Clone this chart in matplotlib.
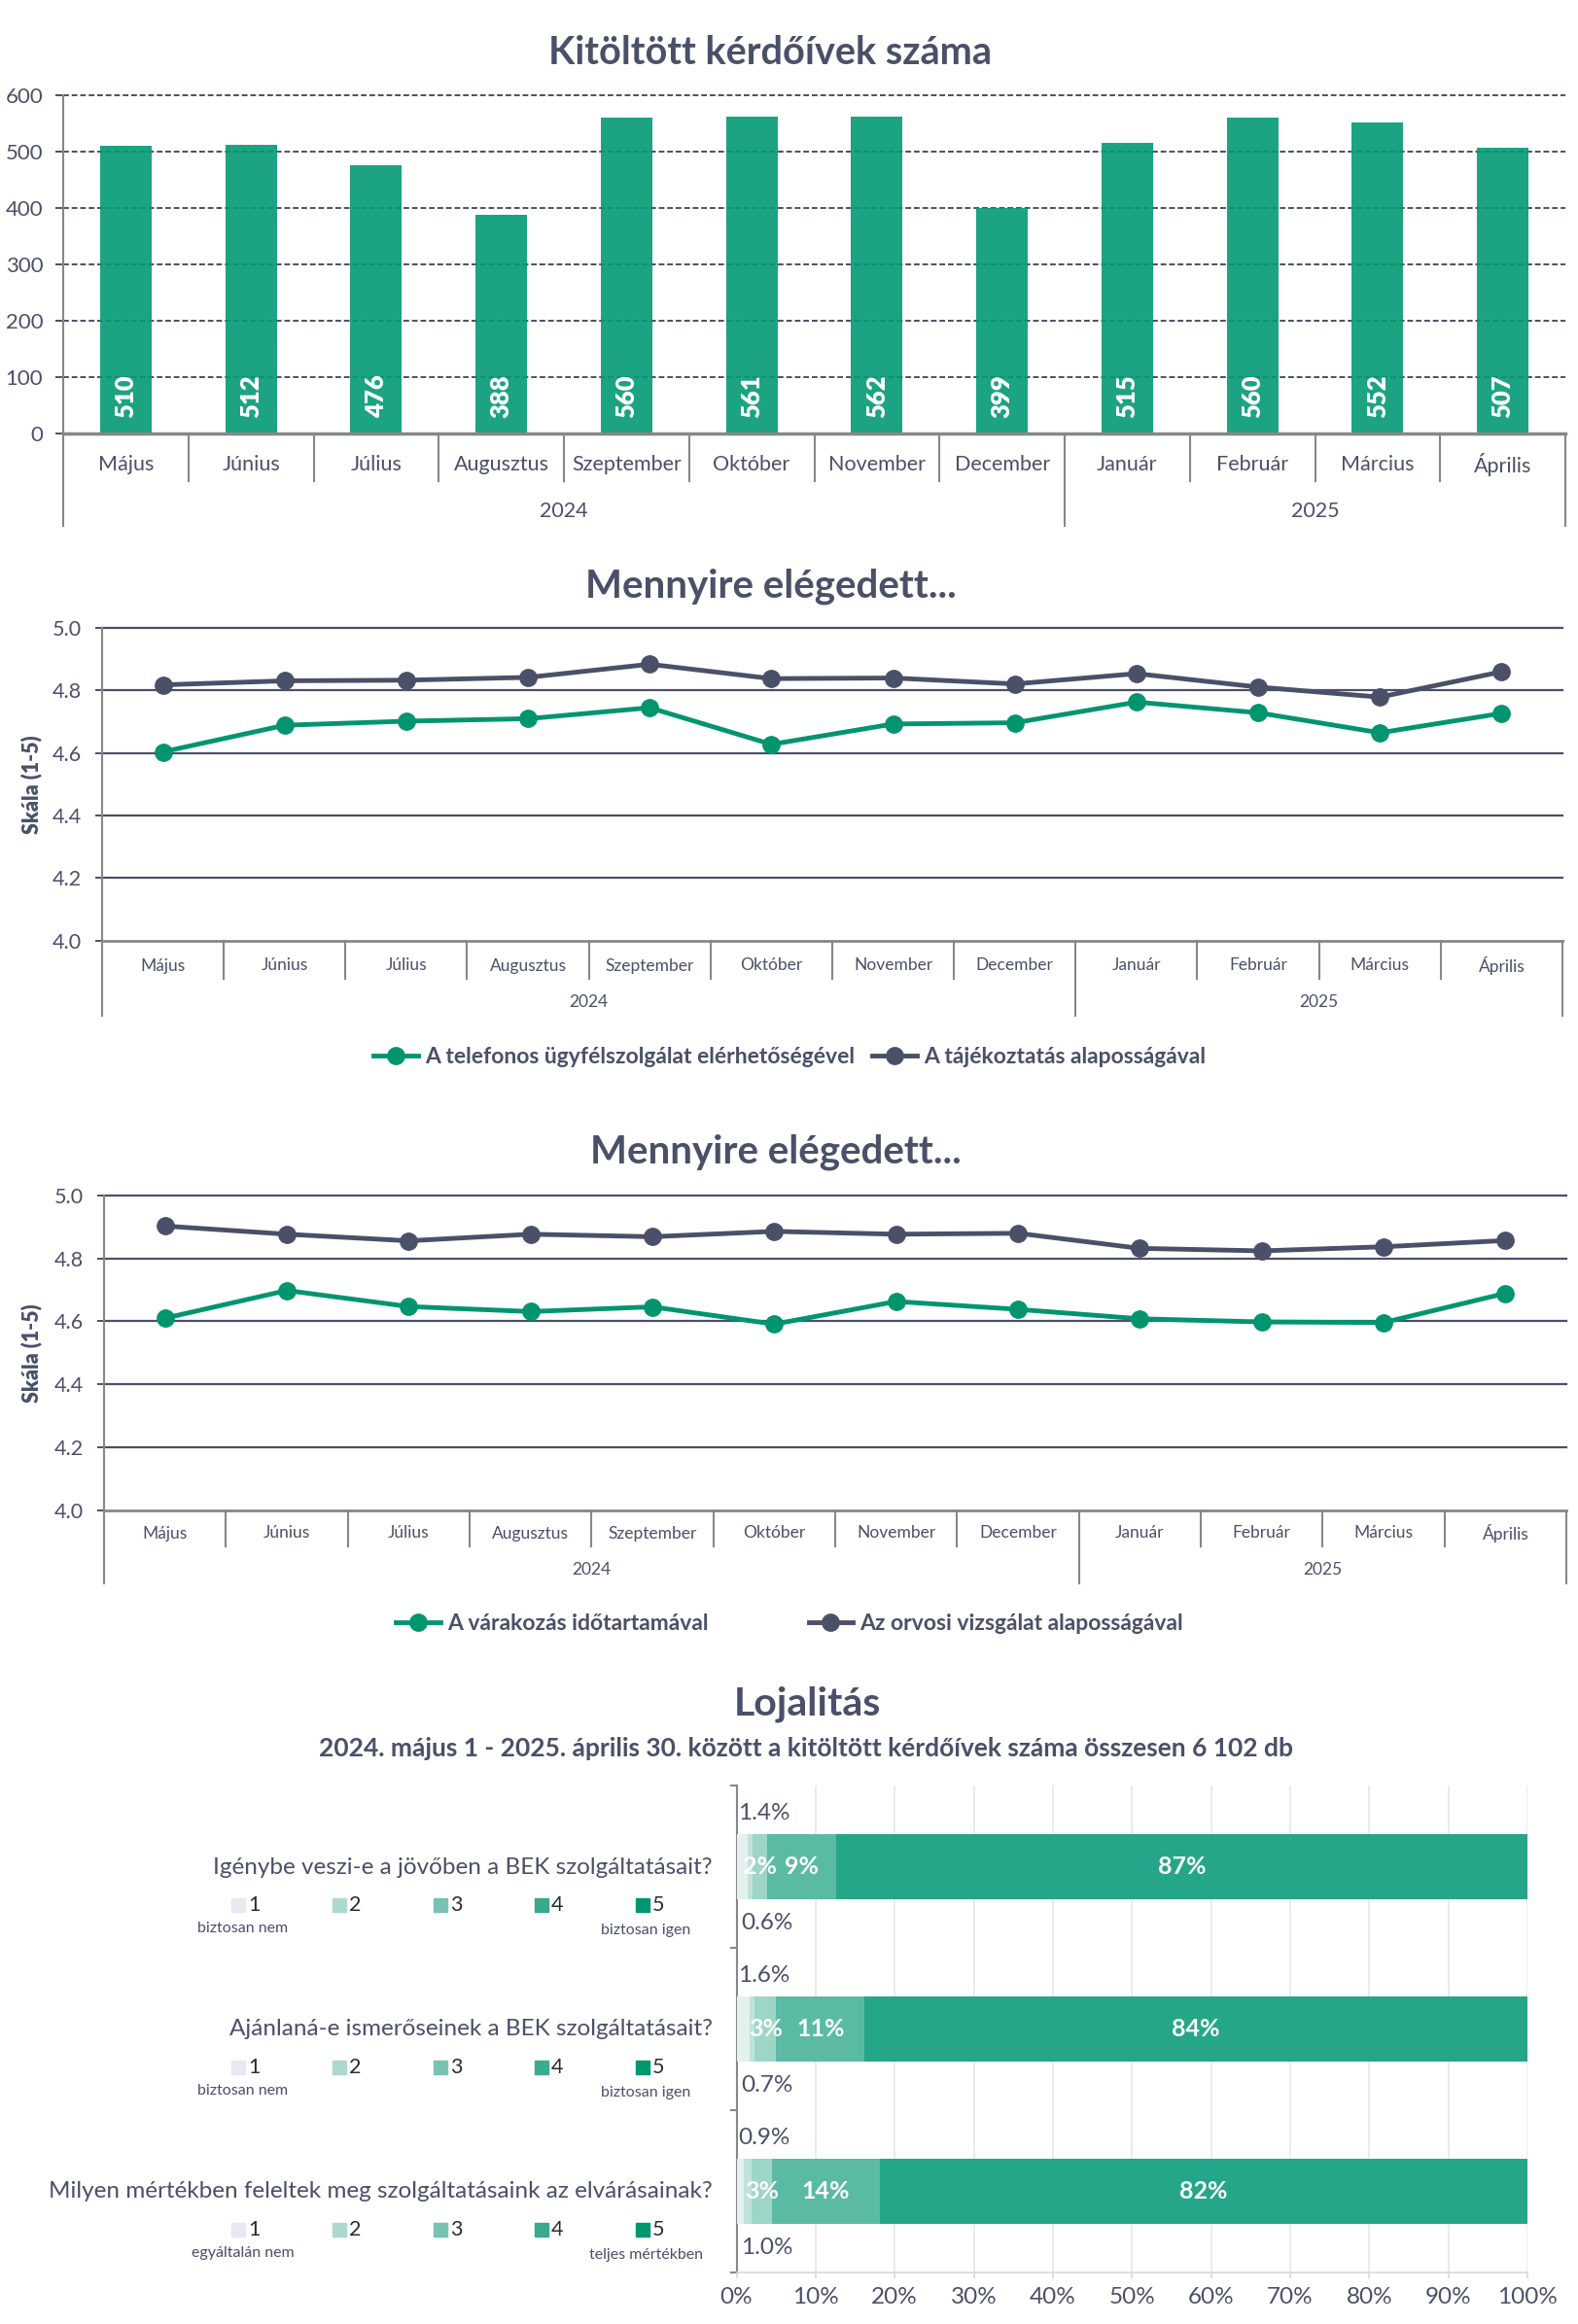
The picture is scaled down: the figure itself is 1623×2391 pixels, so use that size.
import matplotlib
matplotlib.use('Agg')
import matplotlib.pyplot as plt
from matplotlib.patches import Rectangle
from matplotlib.lines import Line2D

plt.rcParams['font.family'] = ['Lato', 'DejaVu Sans']

# adatok
months = ['Május', 'Június', 'Július', 'Augusztus', 'Szeptember', 'Október',
          'November', 'December', 'Január', 'Február', 'Március', 'Április']
years = ['2024', '2025']
year_counts = [8, 4]

kitoltott = [510, 512, 476, 388, 560, 561, 562, 399, 515, 560, 552, 507]

telefonos = [4.603, 4.688, 4.701, 4.709, 4.744, 4.627, 4.692, 4.696, 4.762, 4.728, 4.664, 4.726]
tajekoztatas = [4.817, 4.830, 4.832, 4.841, 4.883, 4.837, 4.839, 4.820, 4.853, 4.810, 4.778, 4.859]
varakozas = [4.610, 4.698, 4.647, 4.631, 4.646, 4.591, 4.663, 4.638, 4.608, 4.598, 4.596, 4.689]
orvosi = [4.903, 4.877, 4.856, 4.877, 4.869, 4.886, 4.877, 4.880, 4.832, 4.824, 4.837, 4.857]

kerdesek = ['Igénybe veszi-e a jövőben a BEK szolgáltatásait?',
            'Ajánlaná-e ismerőseinek a BEK szolgáltatásait?',
            'Milyen mértékben feleltek meg szolgáltatásaink az elvárásainak?']
skala = ['1', '2', '3', '4', '5']
also_cimke = ['biztosan nem', 'biztosan nem', 'egyáltalán nem']
felso_cimke = ['biztosan igen', 'biztosan igen', 'teljes mértékben']
valaszok = [[1.4, 0.6, 1.9, 8.7, 87.4],
            [1.6, 0.7, 2.7, 11.2, 83.8],
            [0.9, 1.0, 2.6, 13.6, 81.9]]

# szinek
TXT = '#4a5068'
GRAY = '#878787'
GREEN = '#00956f'
DARK = '#4a5068'
bar_cols = ['#e4f1ee', '#bfe3da', '#9dd5c7', '#5bbaa4', '#26a688']
leg_cols = ['#e6e9f0', '#acd8d0', '#76c3b3', '#3aa98e', '#009670']

W, H = 1623, 2391
fig = plt.figure(figsize=(W / 100, H / 100), dpi=100)


def fx(px):
    return px / W


def fy(py):
    return 1 - py / H


def add_ax(l, t, r, b):
    return fig.add_axes([l / W, 1 - b / H, (r - l) / W, (b - t) / H])


def month_axis(ax, top, bottom, month_y, sep_bot, year_y, axis_bot, fs):
    h = bottom - top

    def fr(py):
        return (bottom - py) / h
    tr = ax.get_xaxis_transform()
    for i, m in enumerate(months):
        ax.text(i, fr(month_y), m, transform=tr, ha='center', va='center_baseline',
                fontsize=fs, color=TXT)
    start = 0
    for y, n in zip(years, year_counts):
        ax.text(start + (n - 1) / 2, fr(year_y), y, transform=tr, ha='center',
                va='center_baseline', fontsize=fs, color=TXT)
        start += n
    breaks = [-0.5]
    s = 0
    for n in year_counts:
        s += n
        breaks.append(s - 0.5)
    for i in range(len(months) + 1):
        x = i - 0.5
        yb = fr(axis_bot) if x in breaks else fr(sep_bot)
        ax.plot([x, x], [0, yb], transform=tr, color=GRAY, lw=1.5, clip_on=False)


# 1. oszlopdiagram
ax1 = add_ax(65, 97.7, 1610, 445.7)
ax1.bar(range(len(months)), kitoltott, width=0.41, color='#029975', alpha=0.9, zorder=3)
ax1.set_xlim(-0.5, 11.5)
ax1.set_ylim(0, 600)
ax1.set_yticks(range(0, 601, 100))
for v in range(100, 601, 100):
    ax1.axhline(v, linestyle=(0, (3, 1.5)), color=DARK, lw=1.4, zorder=1, clip_on=False)
for s in ['top', 'right']:
    ax1.spines[s].set_visible(False)
ax1.spines['left'].set_color(GRAY)
ax1.spines['left'].set_linewidth(1.5)
ax1.spines['bottom'].set_color(GRAY)
ax1.spines['bottom'].set_linewidth(2.5)
ax1.spines['bottom'].set_zorder(4)
ax1.tick_params(axis='x', length=0, labelbottom=False)
ax1.tick_params(axis='y', length=6, width=1.4, color=DARK, labelsize=16, labelcolor=TXT, pad=9)
for i, v in enumerate(kitoltott):
    ax1.annotate(str(v), xy=(i, 0), xytext=(0, 11), textcoords='offset points',
                 rotation=90, ha='center', va='bottom', color='white',
                 fontweight='heavy', fontsize=18.5, zorder=5)
month_axis(ax1, 97.7, 445.7, 476, 495, 524, 541, 15.5)
fig.text(fx(792), fy(54), 'Kitöltött kérdőívek száma', ha='center', va='center',
         fontsize=28.5, fontweight='bold', color=TXT)


# 2-3. vonaldiagramok
def line_chart(box, s1, s2, n1, n2, title, title_xy, lab_axis, leg_y, colsp):
    l, t, r, b = box
    ax = add_ax(l, t, r, b)
    ax.plot(range(len(months)), s2, color=DARK, lw=3.5, marker='o', ms=12.5, zorder=4)
    ax.plot(range(len(months)), s1, color=GREEN, lw=3.5, marker='o', ms=12.5, zorder=4)
    ax.set_xlim(-0.5, 11.5)
    ax.set_ylim(4.0, 5.0)
    ticks = [4.0, 4.2, 4.4, 4.6, 4.8, 5.0]
    ax.set_yticks(ticks)
    ax.set_yticklabels([f'{v:.1f}' for v in ticks])
    for v in ticks[1:]:
        ax.axhline(v, color=DARK, lw=1.6, zorder=1, clip_on=False)
    for s in ['top', 'right']:
        ax.spines[s].set_visible(False)
    ax.spines['left'].set_color(GRAY)
    ax.spines['left'].set_linewidth(1.5)
    ax.spines['bottom'].set_color(GRAY)
    ax.spines['bottom'].set_linewidth(2)
    ax.tick_params(axis='x', length=0, labelbottom=False)
    ax.tick_params(axis='y', length=5, width=1.4, color=DARK, labelsize=15.5, labelcolor=TXT, pad=10)
    month_axis(ax, t, b, *lab_axis, 12.5)
    fig.text(fx(title_xy[0]), fy(title_xy[1]), title, ha='center', va='center',
             fontsize=29, fontweight='bold', color=TXT)
    fig.text(fx(32), fy((t + b) / 2), 'Skála (1-5)', rotation=90,
             ha='center', va='center', fontsize=15.5, fontweight='heavy', color=TXT)
    handles = [Line2D([], [], color=GREEN, lw=3.5, marker='o', ms=12.5),
               Line2D([], [], color=DARK, lw=3.5, marker='o', ms=12.5)]
    fig.legend(handles, [n1, n2], loc='center', bbox_to_anchor=(fx(812), fy(leg_y)),
               ncol=2, frameon=False, handlelength=2.0, handletextpad=0.3,
               columnspacing=colsp, labelcolor=TXT,
               prop={'weight': 'bold', 'size': 16.5})
    return ax


line_chart((105, 645.7, 1607, 967.7), telefonos, tajekoztatas,
           'A telefonos ügyfélszolgálat elérhetőségével', 'A tájékoztatás alaposságával',
           'Mennyire elégedett...', (793, 603), (992, 1007, 1030, 1044.6), 1087.6, 0.8)
line_chart((107, 1230, 1611, 1553.5), varakozas, orvosi,
           'A várakozás időtartamával', 'Az orvosi vizsgálat alaposságával',
           'Mennyire elégedett...', (798, 1185), (1576, 1591, 1614, 1629), 1670.5, 4.5)

# 4. lojalitás
fig.text(fx(830), fy(1753), 'Lojalitás', ha='center', va='center',
         fontsize=29.5, fontweight='bold', color=TXT)
fig.text(fx(829), fy(1799),
         '2024. május 1 - 2025. április 30. között a kitöltött kérdőívek száma összesen 6 102 db',
         ha='center', va='center', fontsize=19, fontweight='bold', color=TXT)

ax4 = add_ax(757.5, 1837, 1571, 2338)
for qi, vals in enumerate(valaszok):
    left = 0
    for si, v in enumerate(vals):
        ax4.barh(qi, v, left=left, height=0.4, color=bar_cols[si], zorder=3)
        if si >= 2:
            ax4.text(left + v / 2, qi, f'{round(v):.0f}%', ha='center', va='center',
                     color='white', fontweight='bold', fontsize=18, zorder=5)
        left += v
    ax4.text(0.2, qi - 0.33, f'{vals[0]:.1f}%', ha='left', va='center',
             fontsize=17.5, color=TXT)
    ax4.text(0.6, qi + 0.35, f'{vals[1]:.1f}%', ha='left', va='center',
             fontsize=17.5, color=TXT)
ax4.set_xlim(0, 100)
ax4.set_ylim(2.5, -0.5)
ax4.set_xticks(range(0, 101, 10))
ax4.set_xticklabels([f'{v}%' for v in range(0, 101, 10)])
ax4.set_yticks([-0.5, 0.5, 1.5, 2.5])
ax4.set_yticklabels([])
ax4.xaxis.grid(True, color='#e8e8e8', lw=1.2, zorder=0)
ax4.set_axisbelow(True)
for s in ['top', 'right']:
    ax4.spines[s].set_visible(False)
ax4.spines['left'].set_color(GRAY)
ax4.spines['left'].set_linewidth(1.5)
ax4.spines['bottom'].set_color('#d9d9d9')
ax4.spines['bottom'].set_linewidth(1.2)
ax4.tick_params(axis='y', length=5, width=1.5, color=GRAY)
ax4.tick_params(axis='x', length=4, width=1.2, color='#d9d9d9', labelsize=17.5,
                labelcolor=TXT, pad=7)

bar_centres = [1921, 2088, 2254.6]
sq_x = [245, 349, 453, 557, 661]
for qi, q in enumerate(kerdesek):
    yc = bar_centres[qi]
    fig.text(fx(733), fy(yc), q, ha='right', va='center', fontsize=17.5, color=TXT)
    for si, lab in enumerate(skala):
        fig.patches.append(Rectangle((fx(sq_x[si] - 7), fy(yc + 39 + 7)), 14 / W, 14 / H,
                                     transform=fig.transFigure, color=leg_cols[si]))
        fig.text(fx(sq_x[si] + 10), fy(yc + 39), lab, ha='left', va='center',
                 fontsize=15.5, color='#2b2b2b')
    fig.text(fx(250), fy(yc + 63), also_cimke[qi], ha='center', va='center',
             fontsize=11.5, color=TXT)
    fig.text(fx(664), fy(yc + 65), felso_cimke[qi], ha='center', va='center',
             fontsize=11.5, color=TXT)

fig.savefig('out.png', dpi=100)
